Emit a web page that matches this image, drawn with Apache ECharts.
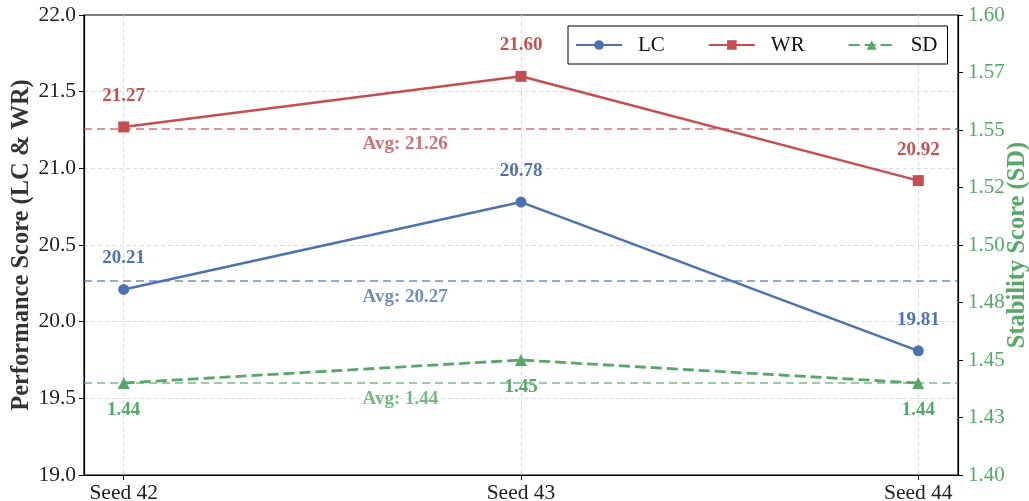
<!DOCTYPE html>
<html><head><meta charset="utf-8">
<script src="https://cdn.jsdelivr.net/npm/echarts@6/dist/echarts.min.js"></script>
<style>html,body{margin:0;padding:0;background:#fff}#c{width:1029px;height:501px}</style>
</head><body><div id="c"></div>
<script>
const categories = ['Seed 42', 'Seed 43', 'Seed 44'];
const lcValues = [20.21, 20.78, 19.81];
const wrValues = [21.27, 21.60, 20.92];
const sdValues = [1.44, 1.45, 1.44];
const rightTickLabels = ['1.40', '1.43', '1.45', '1.48', '1.50', '1.52', '1.55', '1.57', '1.60'];
const avgLabelX = 0.6;

const BLUE = '#4c72b0', RED = '#c44e52', GREEN = '#55a868';
const FONT = 'Liberation Serif';
const mean = a => a.reduce((s, v) => s + v, 0) / a.length;
const lcAvg = mean(lcValues), wrAvg = mean(wrValues), sdAvg = mean(sdValues);
const pts = vals => vals.map((v, i) => [i, v]);

function dataLabel(color, pos, dist) {
  return { show: true, position: pos, distance: dist, color: color, fontFamily: FONT,
    fontWeight: 'bold', fontSize: 19, formatter: p => p.value[1].toFixed(2) };
}
function avgLine(val, color) {
  return { silent: true, symbol: 'none', label: { show: false },
    lineStyle: { color: color, type: [8, 5], width: 2, opacity: 0.6 },
    data: [{ yAxis: val }] };
}
function avgLabel(val, color, off) {
  return { value: [avgLabelX, val],
    label: { show: true, position: 'right', distance: 0, offset: [0, off], color: color,
      fontFamily: FONT, fontWeight: 'bold', fontSize: 19,
      formatter: 'Avg: ' + val.toFixed(2) } };
}
const ySplit = { show: true, showMinLine: false, showMaxLine: false,
  lineStyle: { color: '#dcdcdc', type: [4, 3], width: 1 } };
const xSplit = { show: true, showMinLine: true, showMaxLine: true,
  lineStyle: { color: '#dcdcdc', type: [4, 3], width: 1 } };
const tickStyle = { show: true, length: 5, lineStyle: { color: '#000', width: 1 } };
const axLine = { show: true, onZero: false, lineStyle: { color: '#000', width: 1.2 } };

const chart = echarts.init(document.getElementById('c'));
chart.setOption({
  animation: false,
  backgroundColor: '#fff',
  textStyle: { fontFamily: FONT },
  grid: { left: 84, right: 71, top: 15, bottom: 26, outerBoundsMode: 'none', containLabel: false,
    show: true, borderColor: '#000', borderWidth: 1.2, backgroundColor: '#fff' },
  legend: {
    data: ['LC', 'WR', 'SD'], left: 568, top: 26, orient: 'horizontal',
    itemWidth: 46, itemHeight: 12, itemGap: 43,
    padding: [7, 10, 7, 7], borderColor: '#000', borderWidth: 1, backgroundColor: '#fff',
    textStyle: { fontFamily: FONT, fontSize: 21, color: '#111', padding: [0, 0, 0, 11], lineHeight: 24 }
  },
  xAxis: {
    type: 'value', min: -0.1, max: 2.1,
    axisLine: axLine,
    axisTick: Object.assign({ customValues: [0, 1, 2] }, tickStyle),
    axisLabel: { customValues: [0, 1, 2], formatter: v => categories[Math.round(v)],
      fontSize: 21.5, color: '#222', margin: 7, fontFamily: FONT },
    splitLine: xSplit
  },
  yAxis: [
    { type: 'value', min: 19, max: 22, interval: 0.5,
      name: 'Performance Score (LC & WR)', nameLocation: 'middle', nameGap: 50, nameRotate: 90,
      nameMoveOverlap: false,
      nameTextStyle: { fontFamily: FONT, fontWeight: 'bold', fontSize: 24.5, color: '#333' },
      axisLine: axLine,
      axisTick: tickStyle,
      axisLabel: { formatter: v => v.toFixed(1), fontSize: 21.5, color: '#222', margin: 8, fontFamily: FONT },
      splitLine: ySplit },
    { type: 'value', position: 'right', min: 1.40, max: 1.60, interval: 0.025, alignTicks: false,
      name: 'Stability Score (SD)', nameLocation: 'middle', nameGap: 47, nameRotate: 90,
      nameMoveOverlap: false,
      nameTextStyle: { fontFamily: FONT, fontWeight: 'bold', fontSize: 24.5, color: GREEN },
      axisLine: axLine,
      axisTick: tickStyle,
      axisLabel: { formatter: v => rightTickLabels[Math.round((v - 1.4) / 0.025)], fontSize: 21,
        color: GREEN, margin: 10, fontFamily: FONT },
      splitLine: { show: false } }
  ],
  series: [
    { name: 'LC', type: 'line', yAxisIndex: 0, data: pts(lcValues), symbol: 'circle', symbolSize: 11,
      itemStyle: { color: BLUE }, lineStyle: { color: BLUE, width: 2.5 }, z: 5,
      label: dataLabel(BLUE, 'top', 16), markLine: avgLine(lcAvg, BLUE) },
    { name: 'WR', type: 'line', yAxisIndex: 0, data: pts(wrValues), symbol: 'rect', symbolSize: 11,
      itemStyle: { color: RED }, lineStyle: { color: RED, width: 2.5 }, z: 5,
      label: dataLabel(RED, 'top', 16), markLine: avgLine(wrAvg, RED) },
    { name: 'SD', type: 'line', yAxisIndex: 1, data: pts(sdValues), symbol: 'triangle', symbolSize: 12,
      itemStyle: { color: GREEN }, lineStyle: { color: GREEN, width: 2.8, type: [11, 5] }, z: 5,
      label: dataLabel(GREEN, 'bottom', 12), markLine: avgLine(sdAvg, GREEN) },
    { name: 'avgLabels', type: 'scatter', yAxisIndex: 0, symbolSize: 1, silent: true,
      itemStyle: { color: 'rgba(0,0,0,0)' },
      data: [avgLabel(wrAvg, RED, 16.5), avgLabel(lcAvg, BLUE, 16.5)] },
    { name: 'avgLabelsSD', type: 'scatter', yAxisIndex: 1, symbolSize: 1, silent: true,
      itemStyle: { color: 'rgba(0,0,0,0)' },
      data: [avgLabel(sdAvg, GREEN, 23.5)] }
  ]
});
</script></body></html>
